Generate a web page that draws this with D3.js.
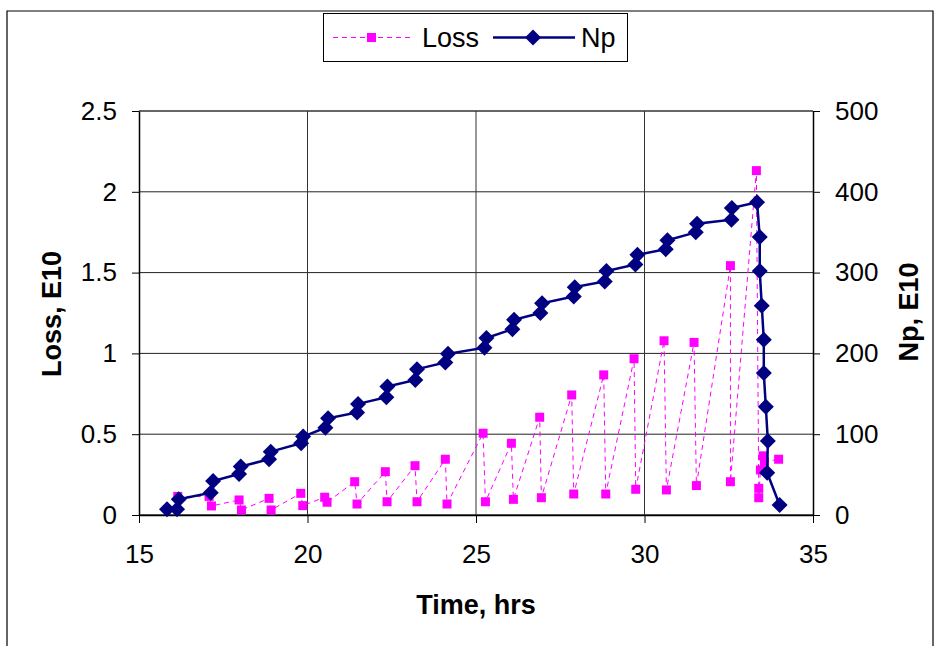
<!DOCTYPE html>
<html lang=en>
<head>
	<meta charset="utf-8">
	<title>loss and np vs time</title>
	<script src="https://cdn.jsdelivr.net/npm/d3@7"></script>
	<style>
	body { margin: 0; background: #fff; }
	text { font-family: "Liberation Sans", Arial, sans-serif; }
	</style>
</head>
<body>
	<script type="text/javascript">
	// Np (right axis)
	var npTime = [15.83, 16.13, 16.18, 17.13, 17.2, 17.97, 18.02, 18.86, 18.91, 19.81, 19.87,
		20.53, 20.61, 21.47, 21.5, 22.34, 22.37, 23.2, 23.25, 24.09, 24.17,
		25.25, 25.31, 26.08, 26.13, 26.91, 26.96, 27.9, 27.93, 28.82, 28.87, 29.73, 29.79,
		30.63, 30.68, 31.52, 31.56, 32.58, 32.59, 33.34, 33.42, 33.42, 33.48, 33.54, 33.54,
		33.6, 33.66, 33.64, 34.01];
	var npValue = [7, 7, 19.5, 27.6, 42, 50.8, 60, 69, 78.4, 88.8, 97,
		108, 119.8, 127, 137.5, 145.8, 159, 167, 180.5, 188.7, 199.5,
		207, 219, 230, 241.6, 250, 262, 270.5, 282, 289, 302, 310, 322,
		329, 340, 349.8, 360.6, 365.5, 380, 387, 344, 302, 259, 216.8, 175.6,
		134, 91.7, 52.4, 12.4];

	// Loss (left axis)
	var lossTime = [16.15, 17.08, 17.15, 17.97, 18.04, 18.86, 18.92, 19.8, 19.86,
		20.51, 20.58, 21.4, 21.47, 22.31, 22.36, 23.19, 23.25, 24.09, 24.14,
		25.21, 25.28, 26.05, 26.11, 26.89, 26.94, 27.84, 27.9, 28.79, 28.85, 29.69, 29.74,
		30.58, 30.65, 31.47, 31.54, 32.55, 32.55, 33.32, 33.39, 33.39, 33.44, 33.52, 33.56, 33.98];
	var lossValue = [0.115, 0.115, 0.056, 0.093, 0.031, 0.103, 0.031, 0.134, 0.058,
		0.11, 0.079, 0.206, 0.068, 0.268, 0.082, 0.305, 0.082, 0.345, 0.068,
		0.506, 0.082, 0.444, 0.097, 0.605, 0.107, 0.743, 0.13, 0.867, 0.13, 0.967, 0.159,
		1.078, 0.155, 1.068, 0.182, 1.543, 0.206, 2.131, 0.165, 0.107, 0.279, 0.366, 0.33, 0.345];

	var xTicks = [15, 20, 25, 30, 35];
	var lossTicks = [0, 0.5, 1, 1.5, 2, 2.5];
	var npTicks = [0, 100, 200, 300, 400, 500];

	var npData = npTime.map(function(t, i){ return {t: t, v: npValue[i]}; });
	var lossData = lossTime.map(function(t, i){ return {t: t, v: lossValue[i]}; });

	var W = 942, H = 646;
	var plotL = 139, plotR = 813, plotT = 111, plotB = 515;
	var labelSize = 26, titleSize = 27;

	var svg = d3.select('body')
				.append('svg')
				.attr('width', W)
				.attr('height', H);

	// outer chart frame
	svg.append('path')
		.attr('d', 'M7,' + H + 'V11H933V' + H)
		.attr('fill', 'none')
		.attr('stroke', '#000')
		.attr('stroke-width', 1.2);

	var x = d3.scaleLinear().domain([15, 35]).range([plotL, plotR]);
	var yL = d3.scaleLinear().domain([0, 2.5]).range([plotB, plotT]);
	var yR = d3.scaleLinear().domain([0, 500]).range([plotB, plotT]);

	// gridlines
	svg.selectAll('line.hgrid')
		.data(lossTicks)
		.enter()
		.append('line')
		.attr('x1', plotL).attr('x2', plotR)
		.attr('y1', function(d){ return yL(d); })
		.attr('y2', function(d){ return yL(d); })
		.attr('stroke', function(d, i){ return (i == 0 || i == lossTicks.length-1) ? '#666' : '#222'; })
		.attr('stroke-width', function(d, i){ return (i == 0 || i == lossTicks.length-1) ? 2 : 1; });

	svg.selectAll('line.vgrid')
		.data(xTicks.slice(1, -1))
		.enter()
		.append('line')
		.attr('y1', plotT).attr('y2', plotB)
		.attr('x1', function(d){ return x(d); })
		.attr('x2', function(d){ return x(d); })
		.attr('stroke', '#333')
		.attr('stroke-width', 1);

	// axes
	var axisStyle = function(g){
		g.select('.domain').attr('stroke', '#000').attr('stroke-width', 1.5);
		g.selectAll('.tick line').attr('stroke', '#000');
		g.selectAll('.tick text').attr('font-size', labelSize).attr('font-family', '"Liberation Sans", Arial, sans-serif').attr('fill', '#000');
	};

	svg.append('g')
		.attr('transform', 'translate(0,' + plotB + ')')
		.call(d3.axisBottom(x).tickValues(xTicks).tickSize(8).tickPadding(22).tickSizeOuter(0))
		.call(axisStyle);

	svg.append('g')
		.attr('transform', 'translate(' + plotL + ',0)')
		.call(d3.axisLeft(yL).tickValues(lossTicks).tickSize(7).tickPadding(15).tickSizeOuter(0)
			.tickFormat(function(d){ return d; }))
		.call(axisStyle);

	svg.append('g')
		.attr('transform', 'translate(' + plotR + ',0)')
		.call(d3.axisRight(yR).tickValues(npTicks).tickSize(7).tickPadding(15).tickSizeOuter(0))
		.call(axisStyle);

	// axis titles
	svg.append('text')
		.text('Time, hrs')
		.attr('x', 476)
		.attr('y', 614)
		.attr('text-anchor', 'middle')
		.attr('font-size', titleSize)
		.attr('font-weight', 'bold');

	svg.append('text')
		.text('Loss, E10')
		.attr('transform', 'translate(61,314) rotate(-90)')
		.attr('text-anchor', 'middle')
		.attr('font-size', titleSize)
		.attr('font-weight', 'bold');

	svg.append('text')
		.text('Np, E10')
		.attr('transform', 'translate(918,312) rotate(-90)')
		.attr('text-anchor', 'middle')
		.attr('font-size', titleSize)
		.attr('font-weight', 'bold');

	// loss series
	var lossLine = d3.line()
		.x(function(d){ return x(d.t); })
		.y(function(d){ return yL(d.v); });

	svg.append('path')
		.datum(lossData)
		.attr('d', lossLine)
		.attr('fill', 'none')
		.attr('stroke', '#ff00ff')
		.attr('stroke-width', 1)
		.attr('stroke-dasharray', '5,4');

	svg.selectAll('rect.loss')
		.data(lossData)
		.enter()
		.append('rect')
		.attr('x', function(d){ return x(d.t) - 4.5; })
		.attr('y', function(d){ return yL(d.v) - 4.5; })
		.attr('width', 9)
		.attr('height', 9)
		.attr('fill', '#ff00ff');

	// np series
	var npLine = d3.line()
		.x(function(d){ return x(d.t); })
		.y(function(d){ return yR(d.v); });

	svg.append('path')
		.datum(npData)
		.attr('d', npLine)
		.attr('fill', 'none')
		.attr('stroke', '#000080')
		.attr('stroke-width', 2.5);

	var diamond = 'M0,-8L8,0L0,8L-8,0Z';

	svg.selectAll('path.np')
		.data(npData)
		.enter()
		.append('path')
		.attr('d', diamond)
		.attr('transform', function(d){ return 'translate(' + x(d.t) + ',' + yR(d.v) + ')'; })
		.attr('fill', '#000080');

	// legend
	var legend = svg.append('g');
	legend.append('rect')
		.attr('x', 323.5).attr('y', 13.5)
		.attr('width', 304).attr('height', 48)
		.attr('fill', '#fff')
		.attr('stroke', '#000')
		.attr('stroke-width', 1);

	legend.append('line')
		.attr('x1', 333).attr('x2', 414).attr('y1', 37.5).attr('y2', 37.5)
		.attr('stroke', '#ff00ff').attr('stroke-dasharray', '5,4');
	legend.append('rect')
		.attr('x', 367).attr('y', 33).attr('width', 9).attr('height', 9)
		.attr('fill', '#ff00ff');
	legend.append('text')
		.text('Loss')
		.attr('x', 422).attr('y', 47)
		.attr('font-size', 27);

	legend.append('line')
		.attr('x1', 493).attr('x2', 575).attr('y1', 37.5).attr('y2', 37.5)
		.attr('stroke', '#000080').attr('stroke-width', 2.5);
	legend.append('path')
		.attr('d', diamond)
		.attr('transform', 'translate(533,37.5)')
		.attr('fill', '#000080');
	legend.append('text')
		.text('Np')
		.attr('x', 581).attr('y', 47)
		.attr('font-size', 27);

	</script>
</body>
</html>
